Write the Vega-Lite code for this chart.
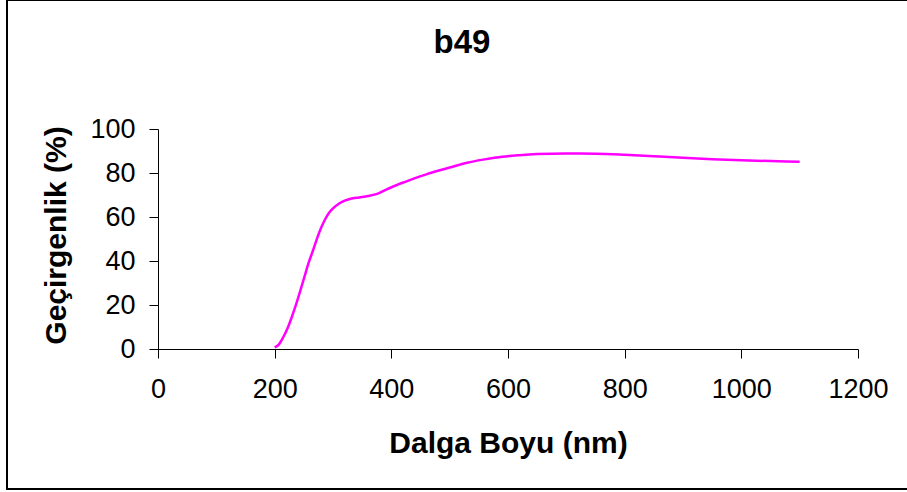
{
  "$schema": "https://vega.github.io/schema/vega-lite/v6.json",
  "width": 700,
  "height": 220,
  "autosize": {"type": "none"},
  "padding": {"left": 158, "top": 129, "right": 49, "bottom": 143},
  "background": "white",
  "title": {
    "text": "b49",
    "font": "Liberation Sans",
    "fontSize": 33,
    "fontWeight": "bold",
    "color": "black",
    "anchor": "middle",
    "frame": "group",
    "baseline": "alphabetic",
    "dx": -46,
    "dy": 96,
    "offset": 10
  },
  "config": {
    "view": {"stroke": null},
    "axis": {
      "grid": false,
      "domainColor": "black",
      "domainWidth": 1,
      "tickColor": "black",
      "tickSize": 9,
      "tickWidth": 1,
      "labelFont": "Liberation Sans",
      "labelFontSize": 27,
      "labelColor": "black",
      "labelFlush": false,
      "labelOverlap": false,
      "format": "d",
      "titleFont": "Liberation Sans",
      "titleFontSize": 30,
      "titleFontWeight": "bold",
      "titleColor": "black"
    }
  },
  "data": {
    "values": [
      {"nm": 200, "T": 0.7},
      {"nm": 207, "T": 2},
      {"nm": 214, "T": 5},
      {"nm": 223, "T": 10},
      {"nm": 230, "T": 15},
      {"nm": 237, "T": 20.5},
      {"nm": 244, "T": 26.5},
      {"nm": 251, "T": 32.8},
      {"nm": 258, "T": 39},
      {"nm": 266, "T": 45},
      {"nm": 273, "T": 50.5},
      {"nm": 280, "T": 55.3},
      {"nm": 287, "T": 59.2},
      {"nm": 293, "T": 61.8},
      {"nm": 300, "T": 63.9},
      {"nm": 310, "T": 66},
      {"nm": 320, "T": 67.4},
      {"nm": 330, "T": 68.3},
      {"nm": 345, "T": 68.9},
      {"nm": 360, "T": 69.5},
      {"nm": 377, "T": 70.6},
      {"nm": 392, "T": 72.6},
      {"nm": 410, "T": 74.6},
      {"nm": 426, "T": 76.2},
      {"nm": 443, "T": 77.9},
      {"nm": 460, "T": 79.4},
      {"nm": 480, "T": 81},
      {"nm": 500, "T": 82.5},
      {"nm": 530, "T": 84.7},
      {"nm": 560, "T": 86.2},
      {"nm": 590, "T": 87.4},
      {"nm": 620, "T": 88.1},
      {"nm": 650, "T": 88.6},
      {"nm": 700, "T": 88.9},
      {"nm": 750, "T": 88.8},
      {"nm": 800, "T": 88.3},
      {"nm": 850, "T": 87.6},
      {"nm": 900, "T": 86.9},
      {"nm": 950, "T": 86.3},
      {"nm": 1000, "T": 85.8},
      {"nm": 1050, "T": 85.4},
      {"nm": 1100, "T": 85.1}
    ]
  },
  "layer": [
    {
      "mark": {"type": "rect", "fill": null, "stroke": "black", "strokeWidth": 1.5, "clip": false},
      "encoding": {
        "x": {"datum": -258.6, "type": "quantitative"},
        "x2": {"datum": 1290},
        "y": {"datum": 158.5, "type": "quantitative"},
        "y2": {"datum": -63.8}
      }
    },
    {
      "mark": {"type": "line", "color": "#FF00FF", "strokeWidth": 2.5, "interpolate": "monotone"},
      "encoding": {
        "x": {
          "field": "nm",
          "type": "quantitative",
          "scale": {"domain": [0, 1200], "nice": false},
          "axis": {
            "title": "Dalga Boyu (nm)",
            "values": [0, 200, 400, 600, 800, 1000, 1200],
            "labelPadding": 18,
            "titleBaseline": "alphabetic",
            "titleY": 103,
            "titleX": 350
          }
        },
        "y": {
          "field": "T",
          "type": "quantitative",
          "scale": {"domain": [0, 100], "nice": false},
          "axis": {
            "title": "Geçirgenlik (%)",
            "values": [0, 20, 40, 60, 80, 100],
            "labelPadding": 14,
            "titleBaseline": "alphabetic",
            "titleAngle": -90,
            "titleAlign": "center",
            "titleX": -93,
            "titleY": 106
          }
        }
      }
    }
  ]
}
